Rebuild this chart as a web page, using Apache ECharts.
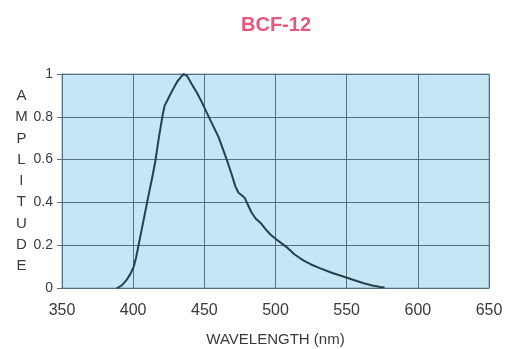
<!DOCTYPE html>
<html>
<head>
<meta charset="utf-8">
<script src="https://cdn.jsdelivr.net/npm/echarts@6/dist/echarts.min.js"></script>
<style>
  html, body { margin: 0; padding: 0; background: #fff; }
  #chart { width: 508px; height: 349px; }
</style>
</head>
<body>
<div id="chart"></div>
<script>
// emission spectrum
var wavelength = [388.8, 392, 395.3, 398, 400.4, 402, 405, 408, 411, 413.5, 415.5, 418, 420.5, 422, 425, 428.5, 431, 433.5, 435.5,
    438, 441, 445, 448.5, 452, 456, 460, 463, 466, 469, 471.8, 474, 476.5, 478.5, 480.5, 483, 486, 489.4, 493, 496.4,
    500, 505, 508, 512.8, 516, 519.8, 525, 531.5, 540, 550.3, 556, 562, 568, 573.7, 576];
var amplitude = [0, 0.012, 0.037, 0.065, 0.1, 0.14, 0.24, 0.34, 0.44, 0.52, 0.59, 0.70, 0.80, 0.85, 0.89, 0.935, 0.965, 0.985, 1.0,
    0.99, 0.955, 0.91, 0.865, 0.815, 0.76, 0.705, 0.65, 0.595, 0.535, 0.475, 0.445, 0.432, 0.42, 0.39, 0.355, 0.325, 0.305, 0.275, 0.25,
    0.23, 0.205, 0.19, 0.16, 0.145, 0.128, 0.11, 0.092, 0.07, 0.048, 0.035, 0.022, 0.012, 0.005, 0.003];

var font = '"Liberation Sans", Arial, sans-serif';
var textColor = '#3a3a3a';
var gridColor = '#566f7e';

var chart = echarts.init(document.getElementById('chart'));
var points = [];
for (var i = 0; i < wavelength.length; i++) {
    points.push([wavelength[i], amplitude[i]]);
}

chart.setOption({
    animation: false,
    title: {
        text: 'BCF-12',
        left: 271,
        textAlign: 'center',
        top: 10,
        textStyle: {
            color: '#e8577e',
            fontSize: 20,
            fontWeight: 'bold',
            fontFamily: font
        }
    },
    grid: {
        left: 62,
        right: 19,
        top: 74,
        bottom: 61,
        outerBoundsMode: 'none',
        containLabel: false,
        show: true,
        backgroundColor: '#c6e6f6',
        borderColor: '#8aa0ad',
        borderWidth: 1
    },
    xAxis: {
        type: 'value',
        min: 350,
        max: 650,
        interval: 50,
        name: 'WAVELENGTH (nm)',
        nameLocation: 'middle',
        nameGap: 52,
        nameTextStyle: {
            color: textColor,
            fontSize: 15,
            fontFamily: font,
            verticalAlign: 'middle'
        },
        axisLine: {show: true, lineStyle: {color: gridColor, width: 1}},
        axisTick: {show: false},
        axisLabel: {
            color: textColor,
            fontSize: 16,
            fontFamily: font,
            margin: 15
        },
        splitLine: {show: true, lineStyle: {color: gridColor, width: 1}}
    },
    yAxis: {
        type: 'value',
        min: 0,
        max: 1,
        interval: 0.2,
        name: 'A\nM\nP\nL\nI\nT\nU\nD\nE',
        nameLocation: 'middle',
        nameRotate: 0,
        nameGap: 40,
        nameTextStyle: {
            color: textColor,
            fontSize: 15,
            fontFamily: font,
            align: 'center',
            verticalAlign: 'middle',
            lineHeight: 21.3
        },
        axisLine: {show: true, lineStyle: {color: gridColor, width: 1}},
        axisTick: {show: true, length: 5, lineStyle: {color: gridColor}},
        axisLabel: {
            color: textColor,
            fontSize: 14,
            fontFamily: font,
            margin: 9
        },
        splitLine: {show: true, lineStyle: {color: gridColor, width: 1}}
    },
    series: [
        {
            type: 'line',
            data: points,
            showSymbol: false,
            smooth: false,
            lineStyle: {color: '#26404f', width: 2, join: 'round', cap: 'round'}
        }
    ]
});
</script>
</body>
</html>
